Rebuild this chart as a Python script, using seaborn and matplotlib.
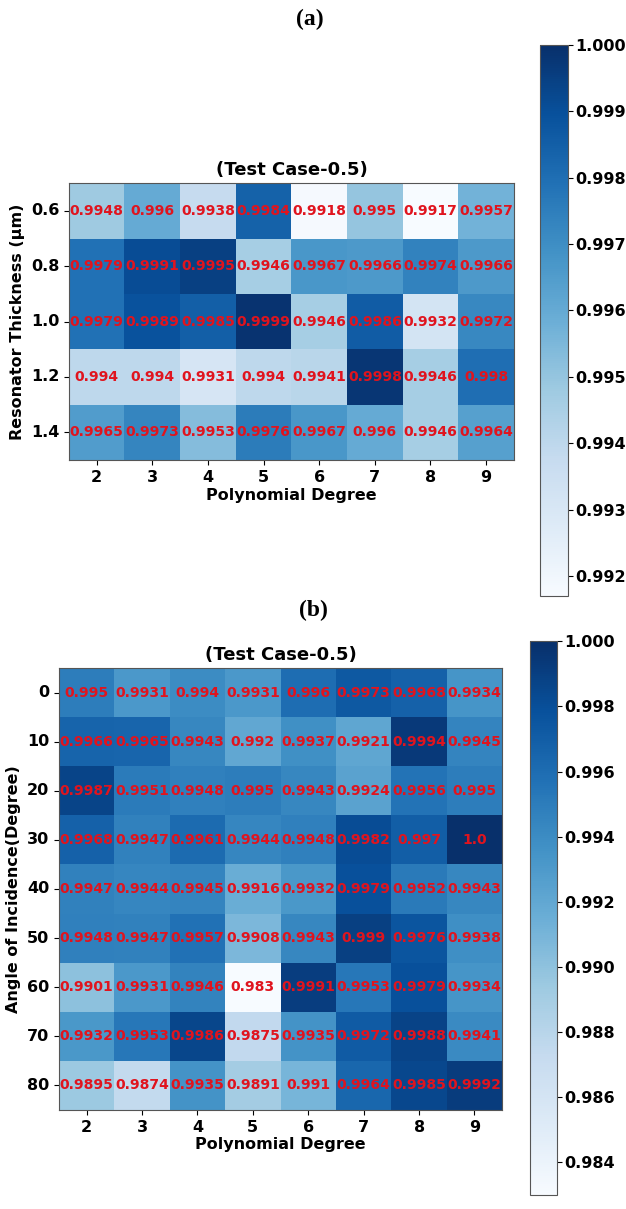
import matplotlib
matplotlib.use("Agg")
import matplotlib.pyplot as plt
import numpy as np
import seaborn as sns

plt.rcParams['font.family'] = ['DejaVu Sans']

# (a) resonator thickness vs polynomial degree
degrees = [2, 3, 4, 5, 6, 7, 8, 9]
thickness = ['0.6', '0.8', '1.0', '1.2', '1.4']
scores_a = [
    [0.9948, 0.996, 0.9938, 0.9984, 0.9918, 0.995, 0.9917, 0.9957],
    [0.9979, 0.9991, 0.9995, 0.9946, 0.9967, 0.9966, 0.9974, 0.9966],
    [0.9979, 0.9989, 0.9985, 0.9999, 0.9946, 0.9986, 0.9932, 0.9972],
    [0.994, 0.994, 0.9931, 0.994, 0.9941, 0.9998, 0.9946, 0.998],
    [0.9965, 0.9973, 0.9953, 0.9976, 0.9967, 0.996, 0.9946, 0.9964],
]

# (b) angle of incidence vs polynomial degree
angles = ['0', '10', '20', '30', '40', '50', '60', '70', '80']
scores_b = [
    [0.995, 0.9931, 0.994, 0.9931, 0.996, 0.9973, 0.9968, 0.9934],
    [0.9966, 0.9965, 0.9943, 0.992, 0.9937, 0.9921, 0.9994, 0.9945],
    [0.9987, 0.9951, 0.9948, 0.995, 0.9943, 0.9924, 0.9956, 0.995],
    [0.9968, 0.9947, 0.9961, 0.9944, 0.9948, 0.9982, 0.997, 1.0],
    [0.9947, 0.9944, 0.9945, 0.9916, 0.9932, 0.9979, 0.9952, 0.9943],
    [0.9948, 0.9947, 0.9957, 0.9908, 0.9943, 0.999, 0.9976, 0.9938],
    [0.9901, 0.9931, 0.9946, 0.983, 0.9991, 0.9953, 0.9979, 0.9934],
    [0.9932, 0.9953, 0.9986, 0.9875, 0.9935, 0.9972, 0.9988, 0.9941],
    [0.9895, 0.9874, 0.9935, 0.9891, 0.991, 0.9964, 0.9985, 0.9992],
]

fig = plt.figure(figsize=(6.26, 12.09), dpi=100)


def draw(ax, cax, data, rows, ylabel, vmax):
    data = np.array(data)
    labels = np.array([[str(v) for v in r] for r in data])
    sns.heatmap(data, ax=ax, cbar_ax=cax, cmap='Blues', vmin=data.min(), vmax=vmax,
                annot=labels, fmt='', xticklabels=degrees, yticklabels=rows,
                annot_kws={'color': '#e0141e', 'fontsize': 10.1, 'fontweight': 'bold'})
    for s in ax.spines.values():
        s.set_visible(True)
        s.set_color('#555555')
        s.set_linewidth(0.8)
    ax.set_title('(Test Case-0.5)', fontsize=13, fontweight='bold', pad=6)
    ax.set_xlabel('Polynomial Degree', fontsize=11.5, fontweight='bold', labelpad=2)
    ax.set_ylabel(ylabel, fontsize=11.5, fontweight='bold')
    ax.tick_params(axis='both', labelsize=11.5, length=3.5)
    for t in ax.get_xticklabels() + ax.get_yticklabels():
        t.set_fontweight('bold')
    plt.setp(ax.get_yticklabels(), rotation=0)
    cb = ax.collections[0].colorbar
    cb.outline.set_edgecolor('#555555')
    cb.outline.set_linewidth(0.8)
    cax.tick_params(labelsize=11.5, length=3.5, pad=2)


ax1 = fig.add_axes([0.110, 0.6195, 0.711, 0.229])
cax1 = fig.add_axes([0.8626, 0.507, 0.0447, 0.456])
draw(ax1, cax1, scores_a, thickness, 'Resonator Thickness (µm)', 1.0)
ticks_a = np.arange(0.992, 1.0001, 0.001)
cax1.set_yticks(ticks_a)
cax1.set_yticklabels([f'{v:.3f}' for v in ticks_a], fontweight='bold')

ax2 = fig.add_axes([0.0942, 0.0819, 0.708, 0.3656])
cax2 = fig.add_axes([0.8466, 0.0116, 0.0431, 0.458])
draw(ax2, cax2, scores_b, angles, 'Angle of Incidence(Degree)', 1.0)
ticks_b = np.arange(0.984, 1.0001, 0.002)
cax2.set_yticks(ticks_b)
cax2.set_yticklabels([f'{v:.3f}' for v in ticks_b], fontweight='bold')

fig.text(0.495, 0.984, '(a)', ha='center', va='center', fontsize=17,
         fontweight='bold', family='Liberation Serif')
fig.text(0.50, 0.495, '(b)', ha='center', va='center', fontsize=17,
         fontweight='bold', family='Liberation Serif')

fig.savefig('out.png', dpi=100)
